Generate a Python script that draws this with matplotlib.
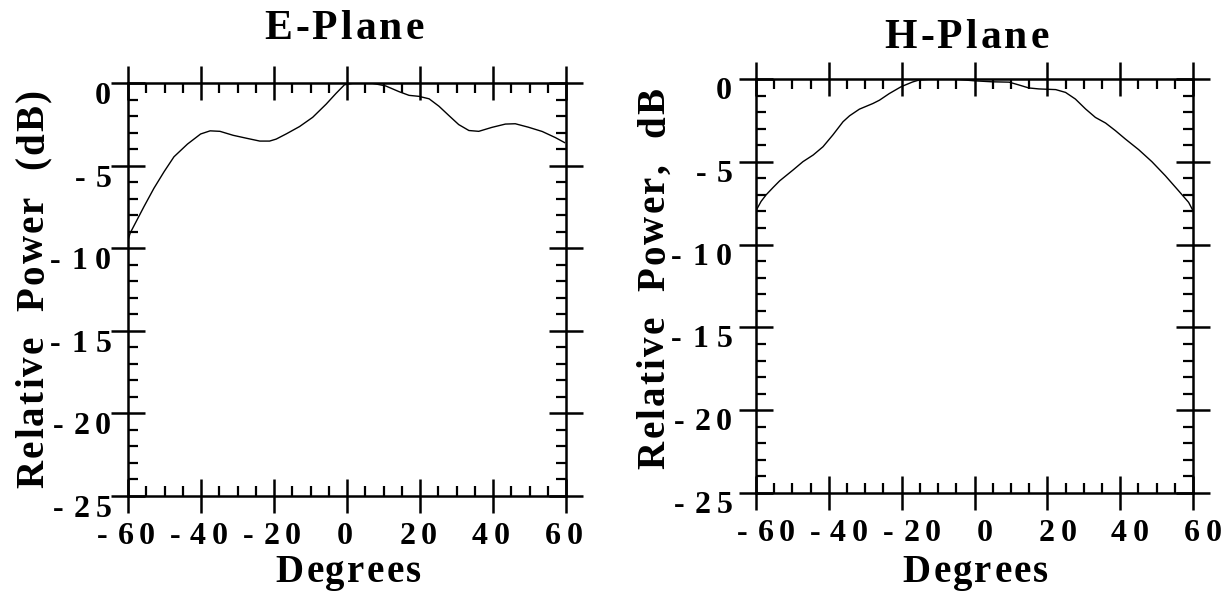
import numpy as np
import matplotlib
matplotlib.use("Agg")
import matplotlib.pyplot as plt
from matplotlib.ticker import FixedLocator, MultipleLocator
from matplotlib import font_manager
from matplotlib.ft2font import FT2Font

# ---- measured radiation patterns (angle in degrees, relative power in dB) ----
e_deg = [-60.1, -59.4, -55.6, -52.9, -50.1, -47.4, -43.7, -40.1, -37.5, -34.8,
         -31.2, -27.5, -23.9, -21.2, -19.4, -16.6, -13.0, -9.4, -5.7, -3.0,
         -0.7, 1.5, 7.0, 10.6, 14.3, 17.0, 19.7, 22.5, 25.2, 27.9,
         30.6, 33.4, 36.1, 39.7, 43.4, 46.1, 49.7, 53.5, 57.1, 59.6]
e_db = [-9.58, -9.07, -7.46, -6.36, -5.35, -4.45, -3.68, -3.07, -2.88, -2.91,
        -3.15, -3.33, -3.50, -3.50, -3.38, -3.06, -2.62, -2.06, -1.26, -0.61,
        -0.09, 0.0, 0.0, -0.16, -0.51, -0.73, -0.79, -0.94, -1.39, -1.95,
        -2.50, -2.86, -2.91, -2.67, -2.47, -2.45, -2.66, -2.92, -3.29, -3.59]

h_deg = [-60.0, -58.6, -57.2, -55.3, -53.5, -49.8, -47.1, -44.3, -41.6, -38.9,
         -36.1, -34.3, -31.6, -27.9, -26.1, -23.4, -20.1, -17.0, -15.2, -11.5,
         -6.0, 0.0, 4.9, 9.5, 12.2, 14.9, 17.7, 22.3, 25.0, 27.7,
         30.5, 33.2, 36.0, 38.7, 41.4, 45.1, 48.7, 52.4, 56.0, 58.8, 60.0]
h_db = [-7.95, -7.39, -6.99, -6.55, -6.15, -5.49, -4.99, -4.59, -4.09, -3.38,
        -2.58, -2.22, -1.82, -1.48, -1.28, -0.88, -0.46, -0.18, -0.06, 0.0,
        0.0, -0.11, -0.17, -0.19, -0.36, -0.54, -0.60, -0.64, -0.81, -1.21,
        -1.81, -2.32, -2.66, -3.12, -3.62, -4.27, -4.99, -5.84, -6.74, -7.45, -7.95]

x_ticks = [-60, -40, -20, 0, 20, 40, 60]
x_tick_labels = ["-60", "-40", "-20", "0", "20", "40", "60"]
y_ticks = [0, -5, -10, -15, -20, -25]
y_tick_labels = ["0", "-5", "-10", "-15", "-20", "-25"]
titles = ["E-Plane", "H-Plane"]
y_labels = ["Relative  Power  (dB)", "Relative  Power,  dB"]
x_label = "Degrees"

# ---- page geometry ----
W, H, DPI = 1225, 594, 100
PX = 72.0 / DPI  # points per pixel

FAMILY = "Liberation Serif"
_prop = font_manager.FontProperties(family=FAMILY, weight="bold")
_face = FT2Font(font_manager.findfont(_prop))


def glyph_metrics(ch, size):
    """Advance width and left bearing of a glyph, in points."""
    _face.set_size(size, 72)
    g = _face.load_char(ord(ch))
    return g.linearHoriAdvance / 65536.0, g.horiBearingX / 64.0


def tracked_text(ax, s, xy, xycoords, size, tracking, ha="center",
                 rotation=0, offset=(0.0, 0.0), extra=None):
    """Bold serif text with extra letter spacing (tracking, in points).

    `extra` maps a character to additional space inserted after it.
    """
    extra = extra or {}
    metrics = [glyph_metrics(c, size) for c in s]
    gaps = [tracking + extra.get(c, 0.0) for c in s[:-1]]
    total = sum(a for a, _ in metrics) + sum(gaps)
    pos = {"center": -total / 2.0, "left": 0.0, "right": -total}[ha]
    th = np.deg2rad(rotation)
    for i, (ch, (adv, bear)) in enumerate(zip(s, metrics)):
        if ch.strip():
            d = pos + bear
            ax.annotate(ch, xy=xy, xycoords=xycoords,
                        xytext=(offset[0] + d * np.cos(th),
                                offset[1] + d * np.sin(th)),
                        textcoords="offset points", ha="left", va="baseline",
                        rotation=rotation, rotation_mode="anchor",
                        fontsize=size, fontweight="bold", family=FAMILY,
                        annotation_clip=False, color="black")
        pos += adv + (gaps[i] if i < len(gaps) else 0.0)


fig = plt.figure(figsize=(W / DPI, H / DPI), dpi=DPI)
fig.patch.set_facecolor("white")

# pixel boxes of the two panels: left, top, right, bottom
boxes = [(128, 83.3, 566, 496), (756, 79, 1193, 493)]
series = [(e_deg, e_db), (h_deg, h_db)]
# per-panel text placement (pixels)
text_pos = [
    dict(title_dy=44, title_dx=-4, xtick_dx=-3, ytick_dx=-18, ytick_dy=21,
         ylab_dx=-85, ylab_dy=0, xlab_dy=86),
    dict(title_dy=31, title_dx=-9, xtick_dx=9, ytick_dx=-25, ytick_dy=20,
         ylab_dx=-92, ylab_dy=7, xlab_dy=89),
]

TICK_SIZE = 23
TICK_TRACK = 4.0
TICK_EXTRA = {"-": 3.0, "1": 2.5}
TITLE_SIZE = 30
TITLE_TRACK = 2.2
LABEL_SIZE = 28
LABEL_TRACK = 1.6

for (l, t, r, b), (deg, db), title, ylab, tp in zip(boxes, series, titles,
                                                     y_labels, text_pos):
    ax = fig.add_axes([l / W, 1 - b / H, (r - l) / W, (b - t) / H])
    ax.plot(deg, db, color="black", lw=1.0)
    ax.set_xlim(-60, 60)
    ax.set_ylim(-25, 0)

    ax.xaxis.set_major_locator(FixedLocator(x_ticks))
    ax.xaxis.set_minor_locator(MultipleLocator(5))
    ax.yaxis.set_major_locator(FixedLocator(y_ticks))
    ax.yaxis.set_minor_locator(MultipleLocator(1))
    ax.tick_params(which="major", direction="inout", length=24, width=1.8,
                   top=True, right=True, bottom=True, left=True,
                   labelbottom=False, labelleft=False, color="black")
    ax.tick_params(which="minor", direction="in", length=7, width=1.6,
                   top=True, right=True, bottom=True, left=True, color="black")
    for sp in ax.spines.values():
        sp.set_linewidth(1.8)
        sp.set_color("black")

    # tick labels
    for v, s in zip(x_ticks, x_tick_labels):
        tracked_text(ax, s, (v, 0), ax.get_xaxis_transform(), TICK_SIZE,
                     TICK_TRACK, ha="center", extra=TICK_EXTRA,
                     offset=(tp["xtick_dx"] * PX, -48 * PX))
    for v, s in zip(y_ticks, y_tick_labels):
        tracked_text(ax, s, (0, v), ax.get_yaxis_transform(), TICK_SIZE,
                     TICK_TRACK, ha="right", extra=TICK_EXTRA,
                     offset=(tp["ytick_dx"] * PX, -tp["ytick_dy"] * PX))

    # title and axis labels
    tracked_text(ax, title, (0.5, 1.0), "axes fraction", TITLE_SIZE,
                 TITLE_TRACK, ha="center",
                 offset=(tp["title_dx"] * PX, tp["title_dy"] * PX))
    tracked_text(ax, x_label, (0.5, 0.0), "axes fraction", LABEL_SIZE,
                 LABEL_TRACK, ha="center", offset=(0, -tp["xlab_dy"] * PX))
    tracked_text(ax, ylab, (0.0, 0.5), "axes fraction", LABEL_SIZE,
                 LABEL_TRACK, ha="center", rotation=90,
                 offset=(tp["ylab_dx"] * PX, tp["ylab_dy"] * PX))

fig.savefig("out.png", dpi=DPI, facecolor="white")
